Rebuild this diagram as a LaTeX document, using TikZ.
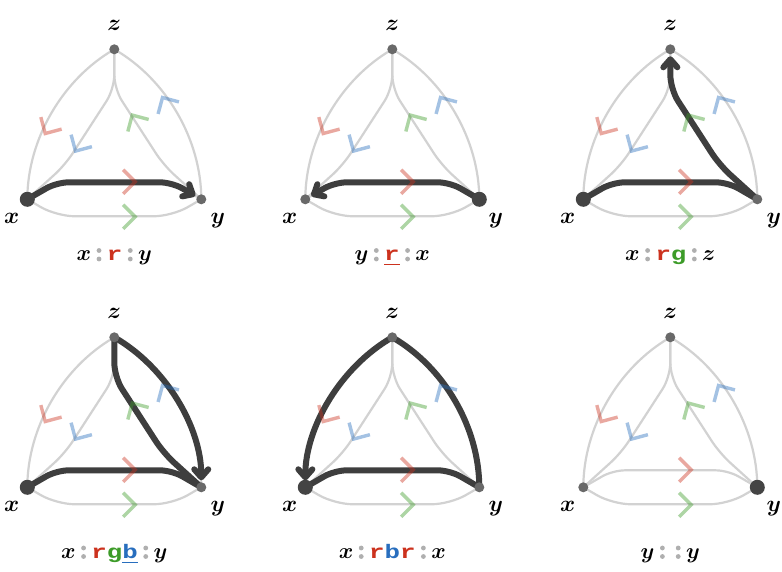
\RequirePackage{fix-cm}
\documentclass[tikz,border=0pt]{standalone}
\usepackage{fontspec}
\usepackage{bm}
\usepackage{graphicx}
\newfontfamily\monofont{Liberation Mono}
\usetikzlibrary{calc,arrows.meta}

\definecolor{cred}{RGB}{204,50,30}
\definecolor{cgreen}{RGB}{60,155,40}
\definecolor{cblue}{RGB}{40,110,190}
\definecolor{edgegray}{RGB}{210,210,210}
\definecolor{pathc}{RGB}{62,62,62}
\definecolor{bigdotc}{RGB}{68,68,68}
\definecolor{smalldotc}{RGB}{105,105,105}
\definecolor{dotgray}{RGB}{175,175,175}

\tikzset{
  edge/.style={draw=edgegray, line width=2.2pt},
  walk/.style={draw=pathc, line width=6pt, line cap=round, line join=round},
  walkend/.style={walk, -{Straight Barb[length=8pt,width=14pt,round]}, shorten >=7pt},
  chev/.style={line width=3.4pt, opacity=0.42},
  bigdot/.style={circle, fill=bigdotc, inner sep=0pt, minimum size=15pt},
  smalldot/.style={circle, fill=smalldotc, inner sep=0pt, minimum size=10pt},
  lab/.style={anchor=base, font=\fontsize{23}{27}\selectfont, inner sep=0pt},
  capt/.style={anchor=base, font=\fontsize{22}{26}\selectfont, inner sep=0pt},
}

% connectors
\newcommand\poly[6]{\draw[#1,rounded corners=#6] (#2) -- (#3) -- (#4) -- (#5);}
\newcommand\bez[5]{\draw[#1] (#2) .. controls (#3) and (#4) .. (#5);}

\newcommand\tri[3]{%
  \coordinate (#1x) at (#2,#3);
  \coordinate (#1y) at ({#2+174},#3);
  \coordinate (#1z) at ({#2+87},{#3-150});
  % bottom pair x-y
  \coordinate (#1bi1) at ($(#1x)!0.195!30:(#1y)$);
  \coordinate (#1bi2) at ($(#1y)!0.195!-30:(#1x)$);
  \coordinate (#1bo1) at ($(#1x)!0.195!-30:(#1y)$);
  \coordinate (#1bo2) at ($(#1y)!0.195!30:(#1x)$);
  % right pair y-z
  \coordinate (#1ri1) at ($(#1y)!0.294!17.7:(#1z)$);
  \coordinate (#1ri2) at ($(#1z)!0.23!-30:(#1y)$);
  \coordinate (#1ro1) at ($(#1y)!0.345!-30:(#1z)$);
  \coordinate (#1ro2) at ($(#1z)!0.345!30:(#1y)$);
  % left pair z-x
  \coordinate (#1li1) at ($(#1z)!0.23!30:(#1x)$);
  \coordinate (#1li2) at ($(#1x)!0.294!-17.7:(#1z)$);
  \coordinate (#1lo1) at ($(#1z)!0.345!-30:(#1x)$);
  \coordinate (#1lo2) at ($(#1x)!0.345!30:(#1z)$);
  % tips of the edge marks
  \coordinate (#1bit) at ($(#1x)!0.62!(#1y)!17.5pt!90:(#1y)$);
  \coordinate (#1bot) at ($(#1x)!0.62!(#1y)!17.5pt!-90:(#1y)$);
  \coordinate (#1rit) at ($(#1y)!0.62!(#1z)!17.5pt!90:(#1z)$);
  \coordinate (#1rot) at ($(#1y)!0.62!(#1z)!17.5pt!-90:(#1z)$);
  \coordinate (#1lit) at ($(#1z)!0.62!(#1x)!17.5pt!90:(#1x)$);
  \coordinate (#1lot) at ($(#1z)!0.62!(#1x)!17.5pt!-90:(#1x)$);
  % grey edges
  \poly{edge}{#1x}{#1bi1}{#1bi2}{#1y}{12pt}
  \poly{edge}{#1x}{#1bo1}{#1bo2}{#1y}{18pt}
  \poly{edge}{#1y}{#1ri1}{#1ri2}{#1z}{14pt}
  \bez{edge}{#1y}{#1ro1}{#1ro2}{#1z}
  \poly{edge}{#1z}{#1li1}{#1li2}{#1x}{14pt}
  \bez{edge}{#1z}{#1lo1}{#1lo2}{#1x}}

\newcommand\chev[3]{\draw[chev,#1] ($(#2)+(#3+135:17pt)$) -- (#2) -- ($(#2)+(#3-135:17pt)$);}
\newcommand\trichev[1]{%
  \chev{cred}{#1bit}{0}\chev{cgreen}{#1bot}{0}
  \chev{cgreen}{#1rit}{120}\chev{cblue}{#1rot}{120}
  \chev{cblue}{#1lit}{240}\chev{cred}{#1lot}{240}}

\newcommand\trilab[1]{%
  \node[lab] (#1xl) at ($(#1x)+(-15.5,24)$) {$\bm{x}$};
  \node[lab] (#1yl) at ($(#1y)+(16.5,24)$) {$\bm{y}$};
  \node[lab] (#1zl) at ($(#1z)+(0,-19)$) {$\bm{z}$};}

\newcommand\gc{\hspace{5.5pt}\tikz[baseline=0pt]{\fill[dotgray] (0pt,2pt) circle (2.4pt) (0pt,10.5pt) circle (2.4pt);}\hspace{5.5pt}}
\newcommand\mt[1]{\scalebox{1.12}[0.85]{\monofont\bfseries\fontsize{23}{26}\selectfont #1}}
\newcommand\mono[2]{\textcolor{#1}{\mt{#2}}}
\newcommand\uln[1]{\setbox0\hbox{#1}\rlap{\rule[-4.5pt]{\wd0}{1.5pt}}\box0}
\newcommand\monoU[2]{\textcolor{#1}{\uln{\mt{#2}}}}

\begin{document}
\begin{tikzpicture}[x=1pt,y=-1pt]
\fill[white] (0,0) rectangle (782,572);
\useasboundingbox (0,0) rectangle (782,572);

% graphs
\tri{A}{27.3}{199.3}
\tri{B}{305.3}{199.3}
\tri{C}{583.3}{199.3}
\tri{D}{27.3}{487.3}
\tri{E}{305.3}{487.3}
\tri{F}{583.3}{487.3}

% walks
\poly{walkend}{Ax}{Abi1}{Abi2}{Ay}{12pt}
\poly{walkend}{By}{Bbi2}{Bbi1}{Bx}{12pt}
\poly{walk}{Cx}{Cbi1}{Cbi2}{Cy}{12pt}
\poly{walkend}{Cy}{Cri1}{Cri2}{Cz}{14pt}
\poly{walk}{Dx}{Dbi1}{Dbi2}{Dy}{12pt}
\poly{walk}{Dy}{Dri1}{Dri2}{Dz}{14pt}
\bez{walkend}{Dz}{Dro2}{Dro1}{Dy}
\poly{walk}{Ex}{Ebi1}{Ebi2}{Ey}{12pt}
\bez{walk}{Ey}{Ero1}{Ero2}{Ez}
\bez{walkend}{Ez}{Elo1}{Elo2}{Ex}

% arrow marks on edges
\trichev{A}\trichev{B}\trichev{C}\trichev{D}\trichev{E}\trichev{F}

% vertices
\node[bigdot] (Axd) at (Ax) {}; \node[smalldot] (Ayd) at (Ay) {}; \node[smalldot] (Azd) at (Az) {};
\node[smalldot] (Bxd) at (Bx) {}; \node[bigdot] (Byd) at (By) {}; \node[smalldot] (Bzd) at (Bz) {};
\node[bigdot] (Cxd) at (Cx) {}; \node[smalldot] (Cyd) at (Cy) {}; \node[smalldot] (Czd) at (Cz) {};
\node[bigdot] (Dxd) at (Dx) {}; \node[smalldot] (Dyd) at (Dy) {}; \node[smalldot] (Dzd) at (Dz) {};
\node[bigdot] (Exd) at (Ex) {}; \node[smalldot] (Eyd) at (Ey) {}; \node[smalldot] (Ezd) at (Ez) {};
\node[smalldot] (Fxd) at (Fx) {}; \node[bigdot] (Fyd) at (Fy) {}; \node[smalldot] (Fzd) at (Fz) {};

\trilab{A}\trilab{B}\trilab{C}\trilab{D}\trilab{E}\trilab{F}

% captions
\node[capt] (Acap) at (114.3,261) {$\bm{x}$\gc\mono{cred}{r}\gc$\bm{y}$};
\node[capt] (Bcap) at (392.3,261) {$\bm{y}$\gc\monoU{cred}{r}\gc$\bm{x}$};
\node[capt] (Ccap) at (670.3,261) {$\bm{x}$\gc\mono{cred}{r}\mono{cgreen}{g}\gc$\bm{z}$};
\node[capt] (Dcap) at (114.3,558.5) {$\bm{x}$\gc\mono{cred}{r}\mono{cgreen}{g}\monoU{cblue}{b}\gc$\bm{y}$};
\node[capt] (Ecap) at (392.3,558.5) {$\bm{x}$\gc\mono{cred}{r}\mono{cblue}{b}\mono{cred}{r}\gc$\bm{x}$};
\node[capt] (Fcap) at (670.3,558.5) {$\bm{y}$\gc\gc$\bm{y}$};
\end{tikzpicture}
\end{document}
